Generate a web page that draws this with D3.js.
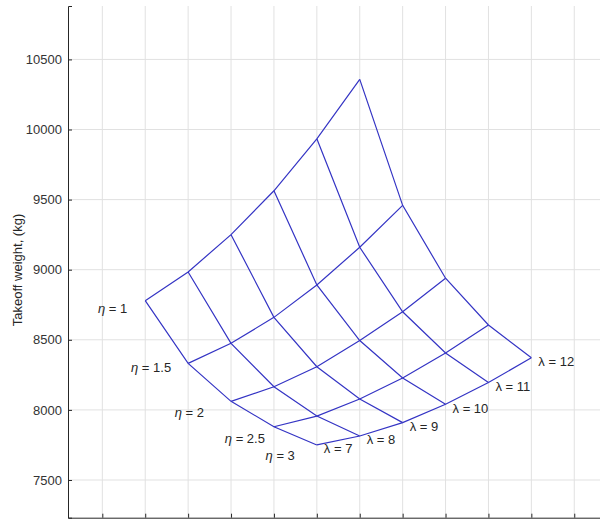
<!DOCTYPE html>
<html>
<head>
<meta charset="utf-8">
<script src="https://cdn.jsdelivr.net/npm/d3@7"></script>
<style>
  body { margin: 0; background: #fff; }
  text { font-family: "Liberation Sans", Arial, sans-serif; }
</style>
</head>
<body>
<div id="canvas"></div>
<script>
// carpet plot: takeoff weight vs aspect ratio (lambda) and eta
const lambdas = [7, 8, 9, 10, 11, 12];
const etas = [1, 1.5, 2, 2.5, 3];

// takeoff weight (kg) for each eta, lambda = 7..12
const wEta1 = [8779, 8984, 9250, 9563, 9934, 10358];
const wEta15 = [8332, 8475, 8660, 8891, 9160, 9459];
const wEta2 = [8061, 8165, 8308, 8495, 8700, 8939];
const wEta25 = [7880, 7956, 8078, 8228, 8406, 8606];
const wEta3 = [7750, 7814, 7909, 8040, 8195, 8372];
const weights = [wEta1, wEta15, wEta2, wEta25, wEta3];

const yTicks = [7500, 8000, 8500, 9000, 9500, 10000, 10500];
const xTicks = [8, 9, 10, 11, 12, 13, 14, 15, 16, 17, 18, 19];

// label nudges (px) for the eta labels, end-anchored
const etaLabelNudge = [[-18, 7], [-17, 4], [-27, 11], [-9, 11], [-22, 10]];

const width = 600;
const height = 519;

const svg = d3.select("#canvas").append("svg")
  .attr("width", width)
  .attr("height", height);

// carpet abscissa: lambda + 2*eta
const carpetX = (lam, eta) => lam + 2 * eta;

const x = d3.scaleLinear().domain([7.2, 19.6]).range([68, 600]);
const y = d3.scaleLinear().domain([7231, 10881]).range([517.7, 6]);

// grid
svg.append("g")
  .selectAll("line.vg")
  .data(xTicks)
  .enter().append("line")
  .attr("x1", d => x(d)).attr("x2", d => x(d))
  .attr("y1", y.range()[1]).attr("y2", y.range()[0])
  .attr("stroke", "#e1e1e1").attr("stroke-width", 1);

svg.append("g")
  .selectAll("line.hg")
  .data(yTicks)
  .enter().append("line")
  .attr("x1", x.range()[0]).attr("x2", width)
  .attr("y1", d => y(d)).attr("y2", d => y(d))
  .attr("stroke", "#e1e1e1").attr("stroke-width", 1);

// axes, ticks inside
const yAxis = svg.append("g")
  .attr("transform", `translate(${x.range()[0]},0)`)
  .call(d3.axisRight(y).tickValues(yTicks).tickSize(4).tickFormat(d3.format("d")));
yAxis.selectAll("text")
  .attr("x", -6).attr("text-anchor", "end")
  .attr("font-size", 13).attr("fill", "#333");

const xAxis = svg.append("g")
  .attr("transform", `translate(0,${y.range()[0]})`)
  .call(d3.axisTop(x).tickValues(xTicks).tickSize(4).tickFormat(""));

svg.selectAll(".domain").attr("stroke", "#262626");
svg.selectAll(".tick line").attr("stroke", "#262626");

// y label
svg.append("text")
  .attr("transform", "translate(17,270) rotate(-90)")
  .attr("text-anchor", "middle")
  .attr("dominant-baseline", "central")
  .attr("font-size", 13)
  .attr("fill", "#262626")
  .text("Takeoff weight, (kg)");

const line = d3.line().x(d => x(d[0])).y(d => y(d[1]));
const blue = "#3434c4";

// constant-eta lines
etas.forEach((eta, i) => {
  const pts = lambdas.map((lam, j) => [carpetX(lam, eta), weights[i][j]]);
  svg.append("path")
    .attr("d", line(pts))
    .attr("fill", "none").attr("stroke", blue).attr("stroke-width", 1.2);
});

// constant-lambda lines
lambdas.forEach((lam, j) => {
  const pts = etas.map((eta, i) => [carpetX(lam, eta), weights[i][j]]);
  svg.append("path")
    .attr("d", line(pts))
    .attr("fill", "none").attr("stroke", blue).attr("stroke-width", 1.2);
});

// eta labels
etas.forEach((eta, i) => {
  const t = svg.append("text")
    .attr("x", x(carpetX(lambdas[0], eta)) + etaLabelNudge[i][0])
    .attr("y", y(weights[i][0]) + etaLabelNudge[i][1])
    .attr("text-anchor", "end")
    .attr("dominant-baseline", "central")
    .attr("font-size", 13)
    .attr("fill", "#262626");
  t.append("tspan").attr("font-style", "italic").text("η");
  t.append("tspan").text(" = " + eta);
});

// lambda labels along the eta = 3 edge
const last = etas.length - 1;
lambdas.forEach((lam, j) => {
  svg.append("text")
    .attr("x", x(carpetX(lam, etas[last])) + 7)
    .attr("y", y(weights[last][j]) + 4)
    .attr("dominant-baseline", "central")
    .attr("font-size", 13)
    .attr("fill", "#262626")
    .text("λ = " + lam);
});
</script>
</body>
</html>
